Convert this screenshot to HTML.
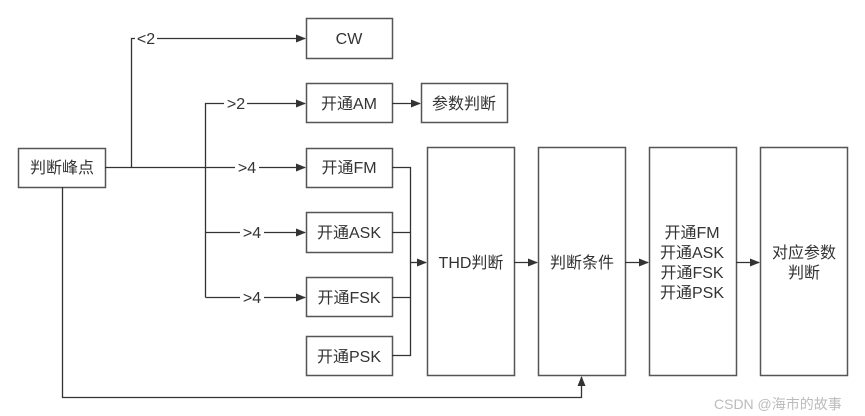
<!DOCTYPE html>
<html><head><meta charset="utf-8"><style>
html,body{margin:0;padding:0;background:#fff;}
svg{display:block}
text{font-family:"Liberation Sans","Noto Sans CJK SC",sans-serif;font-size:16px;fill:#333;}
</style></head><body>
<svg width="865" height="416" viewBox="0 0 865 416" xmlns="http://www.w3.org/2000/svg">
<defs><marker id="a" markerWidth="10" markerHeight="8" refX="9" refY="4" orient="auto" markerUnits="userSpaceOnUse"><path d="M0,0 L10,4 L0,8 Z" fill="#333"/></marker></defs>
<g fill="#fff" stroke="#555" stroke-width="1.5">
<rect x="18.5" y="148.5" width="87" height="39"/>
<rect x="306.5" y="18.5" width="86" height="40"/>
<rect x="306.5" y="83.5" width="86" height="39"/>
<rect x="421.5" y="83.5" width="86" height="39"/>
<rect x="306.5" y="148.5" width="86" height="39"/>
<rect x="306.5" y="212.5" width="86" height="40"/>
<rect x="306.5" y="277.5" width="86" height="39"/>
<rect x="306.5" y="336.5" width="86" height="39"/>
<rect x="427.5" y="147.5" width="87" height="228"/>
<rect x="538.5" y="147.5" width="87" height="228"/>
<rect x="649.5" y="147.5" width="87" height="228"/>
<rect x="760.5" y="147.5" width="87" height="228"/>
</g>
<g fill="none" stroke="#333" stroke-width="1.3">
<path d="M105,167.5 H235"/><path d="M259,167.5 H305" marker-end="url(#a)"/>
<path d="M131.5,167.5 V38.5 H135"/><path d="M157,38.5 H305" marker-end="url(#a)"/>
<path d="M205.5,297.5 V103.5 H224"/><path d="M247,103.5 H305" marker-end="url(#a)"/>
<path d="M205.5,232.5 H240"/><path d="M264,232.5 H305" marker-end="url(#a)"/>
<path d="M205.5,297.5 H240"/><path d="M264,297.5 H305" marker-end="url(#a)"/>
<path d="M392,103.5 H420" marker-end="url(#a)"/>
<path d="M392,167.5 H410.5 V355.5 H392"/>
<path d="M392,232.5 H410.5"/><path d="M392,297.5 H410.5"/>
<path d="M410.5,262.5 H426" marker-end="url(#a)"/>
<path d="M514,262.5 H537" marker-end="url(#a)"/>
<path d="M625,262.5 H648" marker-end="url(#a)"/>
<path d="M736,262.5 H759" marker-end="url(#a)"/>
<path d="M62.5,187 V397.5 H581.5 V377" marker-end="url(#a)"/>
</g>
<g text-anchor="middle">
<text x="62" y="173">判断峰点</text>
<text x="349" y="44">CW</text>
<text x="349" y="109">开通AM</text>
<text x="464" y="109">参数判断</text>
<text x="349" y="173">开通FM</text>
<text x="349" y="238">开通ASK</text>
<text x="349" y="303">开通FSK</text>
<text x="349" y="362">开通PSK</text>
<text x="471" y="268">THD判断</text>
<text x="582" y="268">判断条件</text>
<text x="692" y="238">开通FM</text>
<text x="692" y="258">开通ASK</text>
<text x="692" y="278">开通FSK</text>
<text x="692" y="298">开通PSK</text>
<text x="804" y="258">对应参数</text>
<text x="804" y="278">判断</text>
<text x="146" y="44">&lt;2</text>
<text x="236" y="109">&gt;2</text>
<text x="247" y="173">&gt;4</text>
<text x="252" y="238">&gt;4</text>
<text x="252" y="303">&gt;4</text>
</g>
<text x="714" y="409" style="fill:#bbb;font-size:14px">CSDN @海市的故事</text>
</svg>
</body></html>
